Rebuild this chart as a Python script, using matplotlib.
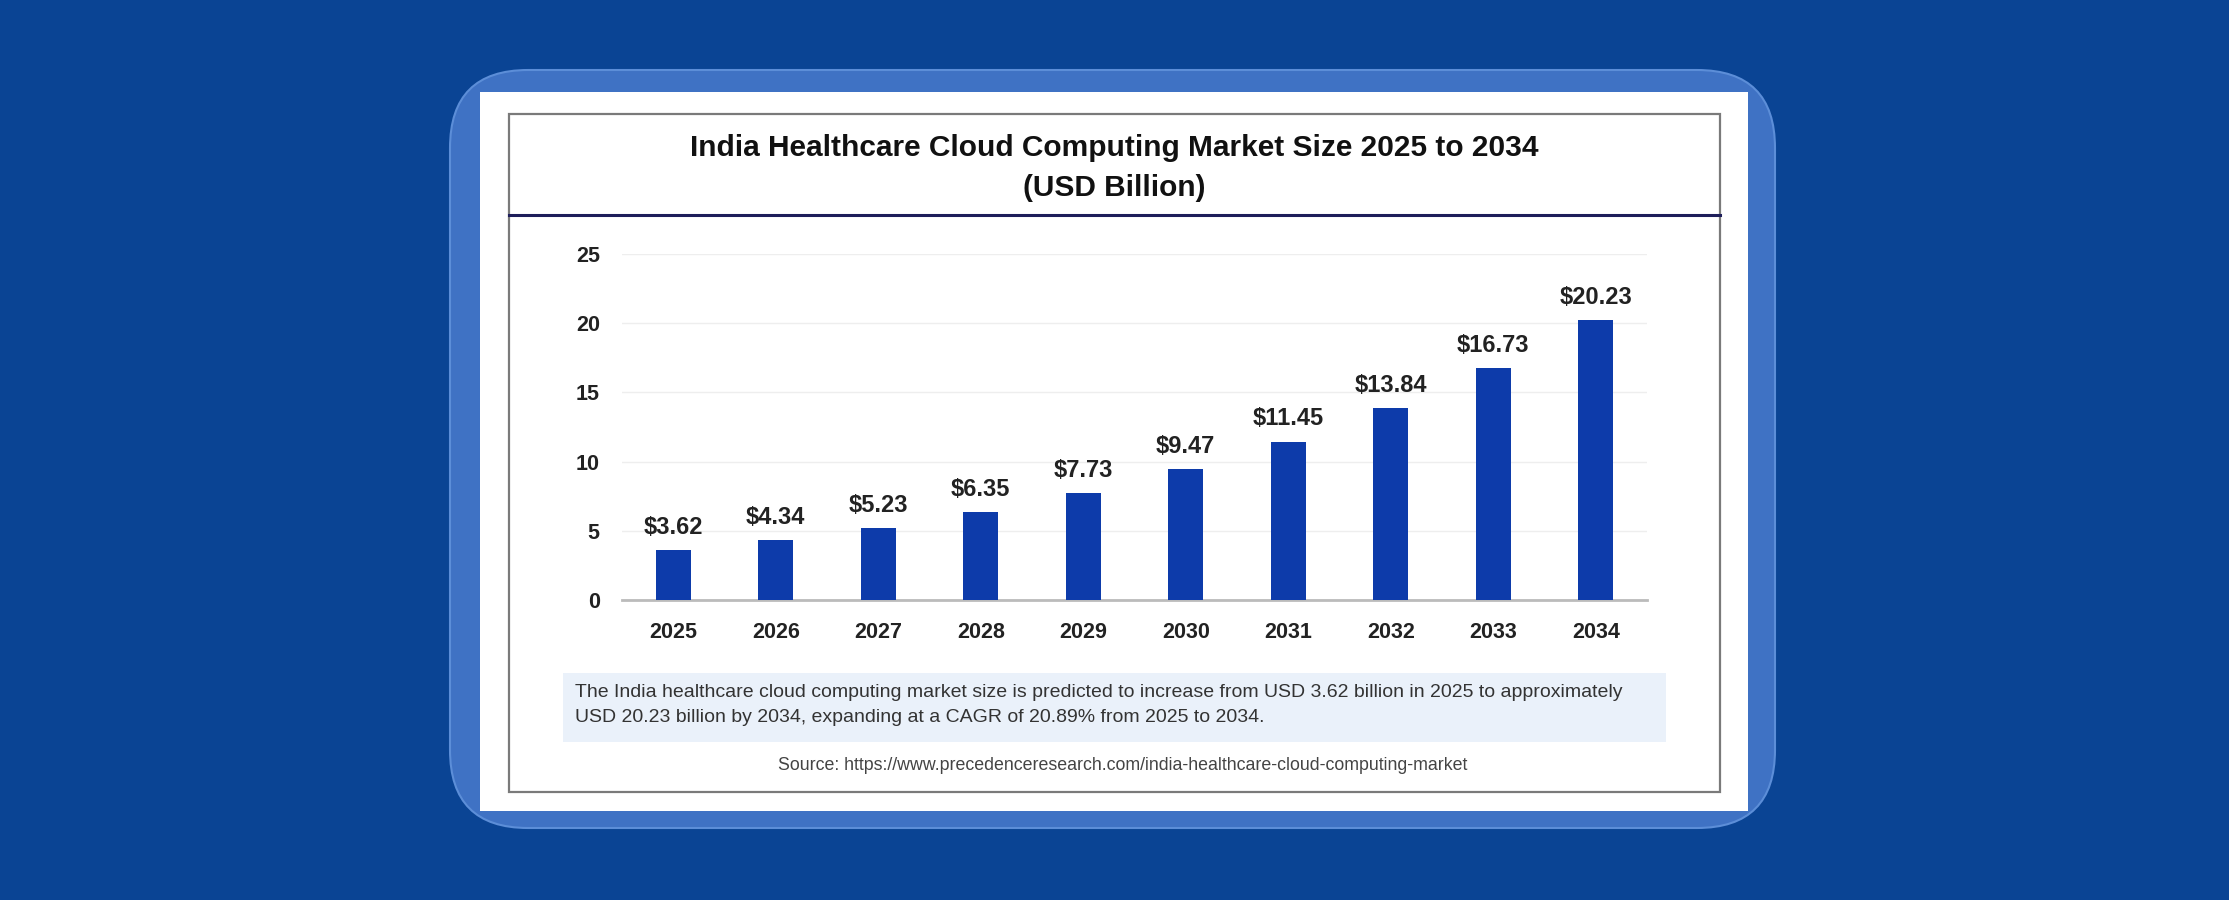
import matplotlib
matplotlib.use("Agg")
import matplotlib.pyplot as plt
from matplotlib.patches import FancyBboxPatch, Rectangle
from matplotlib.lines import Line2D

# data
years = ["2025", "2026", "2027", "2028", "2029", "2030", "2031", "2032", "2033", "2034"]
market_size = [3.62, 4.34, 5.23, 6.35, 7.73, 9.47, 11.45, 13.84, 16.73, 20.23]
y_ticks = [0, 5, 10, 15, 20, 25]

title = "India Healthcare Cloud Computing Market Size 2025 to 2034\n(USD Billion)"
caption = ("The India healthcare cloud computing market size is predicted to increase from USD 3.62 billion in 2025 to approximately\n"
           "USD 20.23 billion by 2034, expanding at a CAGR of 20.89% from 2025 to 2034.")
source = "Source: https://www.precedenceresearch.com/india-healthcare-cloud-computing-market"

W, H = 2229, 900
narrow = ["Liberation Sans Narrow", "Liberation Sans", "DejaVu Sans"]
plt.rcParams["font.family"] = ["Liberation Sans", "DejaVu Sans"]


def fx(x):
    return x / W


def fy(y):
    return 1 - y / H


fig = plt.figure(figsize=(W / 100, H / 100), dpi=100)
fig.patch.set_facecolor("#0A4494")

# rounded light-blue card
fig.patches.append(FancyBboxPatch((fx(450), fy(828)), fx(1775 - 450), (828 - 70) / H,
                                  boxstyle="round,pad=0,rounding_size=0.035",
                                  mutation_aspect=W / H,
                                  transform=fig.transFigure, facecolor="#3F72C4",
                                  edgecolor="#5C8ED8", linewidth=1.5, zorder=0))
# white sheet
fig.patches.append(Rectangle((fx(480), fy(811)), fx(1748 - 480), (811 - 92) / H,
                             transform=fig.transFigure, facecolor="white",
                             edgecolor="none", zorder=1))
# gray frame
fig.patches.append(Rectangle((fx(509), fy(792)), fx(1720 - 509), (792 - 114) / H,
                             transform=fig.transFigure, facecolor="none",
                             edgecolor="#7A7A7A", linewidth=1.6, zorder=2))
# title separator
fig.lines.append(Line2D([fx(509), fx(1720)], [fy(215), fy(215)],
                        transform=fig.transFigure, color="#1E1E5A", linewidth=2.2, zorder=3))

fig.text(fx(1114), fy(168), title, ha="center", va="center", fontsize=21.5,
         fontweight="bold", color="#111111", family=narrow, linespacing=1.55)

# caption box
fig.patches.append(Rectangle((fx(563), fy(742)), fx(1666 - 563), (742 - 673) / H,
                             transform=fig.transFigure, facecolor="#EAF1FA",
                             edgecolor="none", zorder=2))
fig.text(fx(575), fy(705), caption, ha="left", va="center", fontsize=14,
         color="#333333", family=narrow, linespacing=1.6, zorder=4)
fig.text(fx(1123), fy(766), source, ha="center", va="center", fontsize=12.8,
         color="#444444", family=narrow, zorder=4)

# bar chart
ax = fig.add_axes([fx(622), fy(600), fx(1647 - 622), (600 - 254) / H])
ax.set_zorder(5)
ax.patch.set_alpha(0)
bars = ax.bar(range(len(years)), market_size, width=0.34, color="#0D3BAA", zorder=3)
ax.bar_label(bars, labels=[f"${v:.2f}" for v in market_size], padding=8,
             fontsize=17, fontweight="bold", color="#222222")
ax.set_xlim(-0.5, len(years) - 0.5)
ax.set_ylim(0, 25)
ax.set_yticks(y_ticks)
ax.set_xticks(range(len(years)))
ax.set_xticklabels(years)
ax.tick_params(axis="both", length=0, labelsize=15.5, labelcolor="#222222")
ax.tick_params(axis="x", pad=16)
ax.tick_params(axis="y", pad=16)
for lab in ax.get_xticklabels() + ax.get_yticklabels():
    lab.set_fontweight("bold")
ax.grid(axis="y", color="#EEEEEE", linewidth=1, zorder=0)
for side in ["top", "right", "left"]:
    ax.spines[side].set_visible(False)
ax.spines["bottom"].set_color("#BBBBBB")
ax.spines["bottom"].set_linewidth(2)

fig.savefig("out.png", dpi=100, facecolor=fig.get_facecolor())
